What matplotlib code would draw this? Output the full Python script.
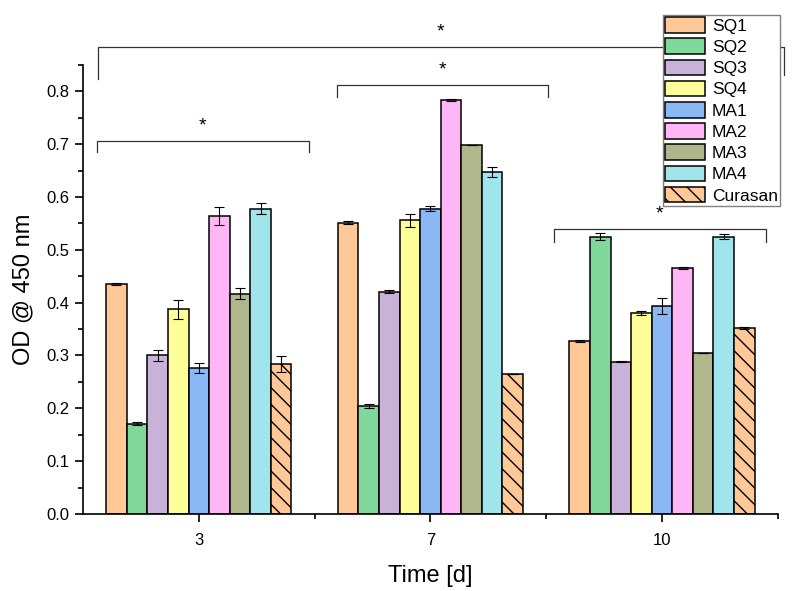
import numpy as np
import matplotlib.pyplot as plt
from matplotlib.ticker import MultipleLocator, FixedLocator

plt.rcParams['font.family'] = ['Liberation Sans', 'DejaVu Sans']
plt.rcParams['hatch.linewidth'] = 1.0

# Data
samples = ["SQ1", "SQ2", "SQ3", "SQ4", "MA1", "MA2", "MA3", "MA4", "Curasan"]
days = ["3", "7", "10"]
od_d3 = [0.435, 0.171, 0.300, 0.387, 0.276, 0.564, 0.417, 0.578, 0.284]
od_d7 = [0.551, 0.205, 0.421, 0.556, 0.578, 0.783, 0.698, 0.647, 0.264]
od_d10 = [0.327, 0.525, 0.288, 0.380, 0.394, 0.465, 0.305, 0.525, 0.352]
err_d3 = [0.002, 0.003, 0.011, 0.018, 0.010, 0.017, 0.010, 0.010, 0.015]
err_d7 = [0.003, 0.004, 0.002, 0.012, 0.004, 0.002, 0.0, 0.009, 0.0]
err_d10 = [0.002, 0.006, 0.001, 0.004, 0.015, 0.002, 0.0, 0.005, 0.001]

colors = ["#FFC896", "#80D89A", "#C8B2D8", "#FFFF99", "#8AB8F5",
          "#FFB6F6", "#B1B78C", "#A0E5EB", "#FFC896"]
hatches = [None] * 8 + ["\\\\"]

od = np.array([od_d3, od_d7, od_d10]).T
err = np.array([err_d3, err_d7, err_d10]).T

fig = plt.figure(figsize=(7.95, 5.91), dpi=100)
ax = fig.add_axes([0.1044, 0.1303, 0.874, 0.760])

x = np.arange(len(days))
w = 0.8 / len(samples)
for i, name in enumerate(samples):
    pos = x + (i - (len(samples) - 1) / 2) * w
    ax.bar(pos, od[i], width=w, color=colors[i], edgecolor="black",
           linewidth=1.1, hatch=hatches[i], label=name, zorder=2)
    ax.errorbar(pos, od[i], yerr=err[i], fmt="none", ecolor="black",
                elinewidth=0.8, capsize=3.6, capthick=0.8, zorder=3)

# Significance brackets: (x left, x right, y, left drop, right drop)
brackets = [
    (-0.44, 0.474, 0.706, 0.685, 0.685),
    (0.595, 1.509, 0.811, 0.790, 0.790),
    (1.534, 2.448, 0.539, 0.514, 0.514),
    (-0.435, 2.526, 0.883, 0.823, 0.830),
]
for x0, x1, yb, d0, d1 in brackets:
    ax.plot([x0, x0, x1, x1], [d0, yb, yb, d1], color="#333333",
            linewidth=0.9, clip_on=False, zorder=1)
    ax.text((x0 + x1) / 2, yb + 0.013, "*", ha="center", va="bottom",
            fontsize=14, clip_on=False)

ax.set_xlim(-0.5, 2.5)
ax.set_ylim(0, 0.85)
ax.set_xticks(x)
ax.set_xticklabels(days)
ax.xaxis.set_minor_locator(FixedLocator([0.5, 1.5, 2.5]))
ax.yaxis.set_major_locator(MultipleLocator(0.1))
ax.yaxis.set_minor_locator(MultipleLocator(0.05))
ax.yaxis.set_major_formatter(plt.FuncFormatter(lambda v, p: f"{v:.1f}"))

for s in ["top", "right"]:
    ax.spines[s].set_visible(False)
for s in ["left", "bottom"]:
    ax.spines[s].set_linewidth(1.2)
ax.tick_params(which="major", direction="out", length=6, width=1.2,
               labelsize=12, pad=4)
ax.tick_params(axis="x", which="major", pad=8)
ax.tick_params(which="minor", direction="out", length=3.5, width=1.2)

ax.set_xlabel("Time [d]", fontsize=17, labelpad=12)
ax.set_ylabel("OD @ 450 nm", fontsize=17, labelpad=8)

leg = ax.legend(loc="upper right", bbox_to_anchor=(780 / 795, 1 - 15 / 591),
                bbox_transform=fig.transFigure, fontsize=12.5,
                frameon=True, fancybox=False, edgecolor="#808080",
                framealpha=1, handlelength=2.3, handleheight=1.0,
                labelspacing=0.26, handletextpad=0.4, borderpad=0.12,
                borderaxespad=0)
leg.get_frame().set_linewidth(1.0)
leg.set_zorder(5)

fig.savefig("out.png", dpi=100)
